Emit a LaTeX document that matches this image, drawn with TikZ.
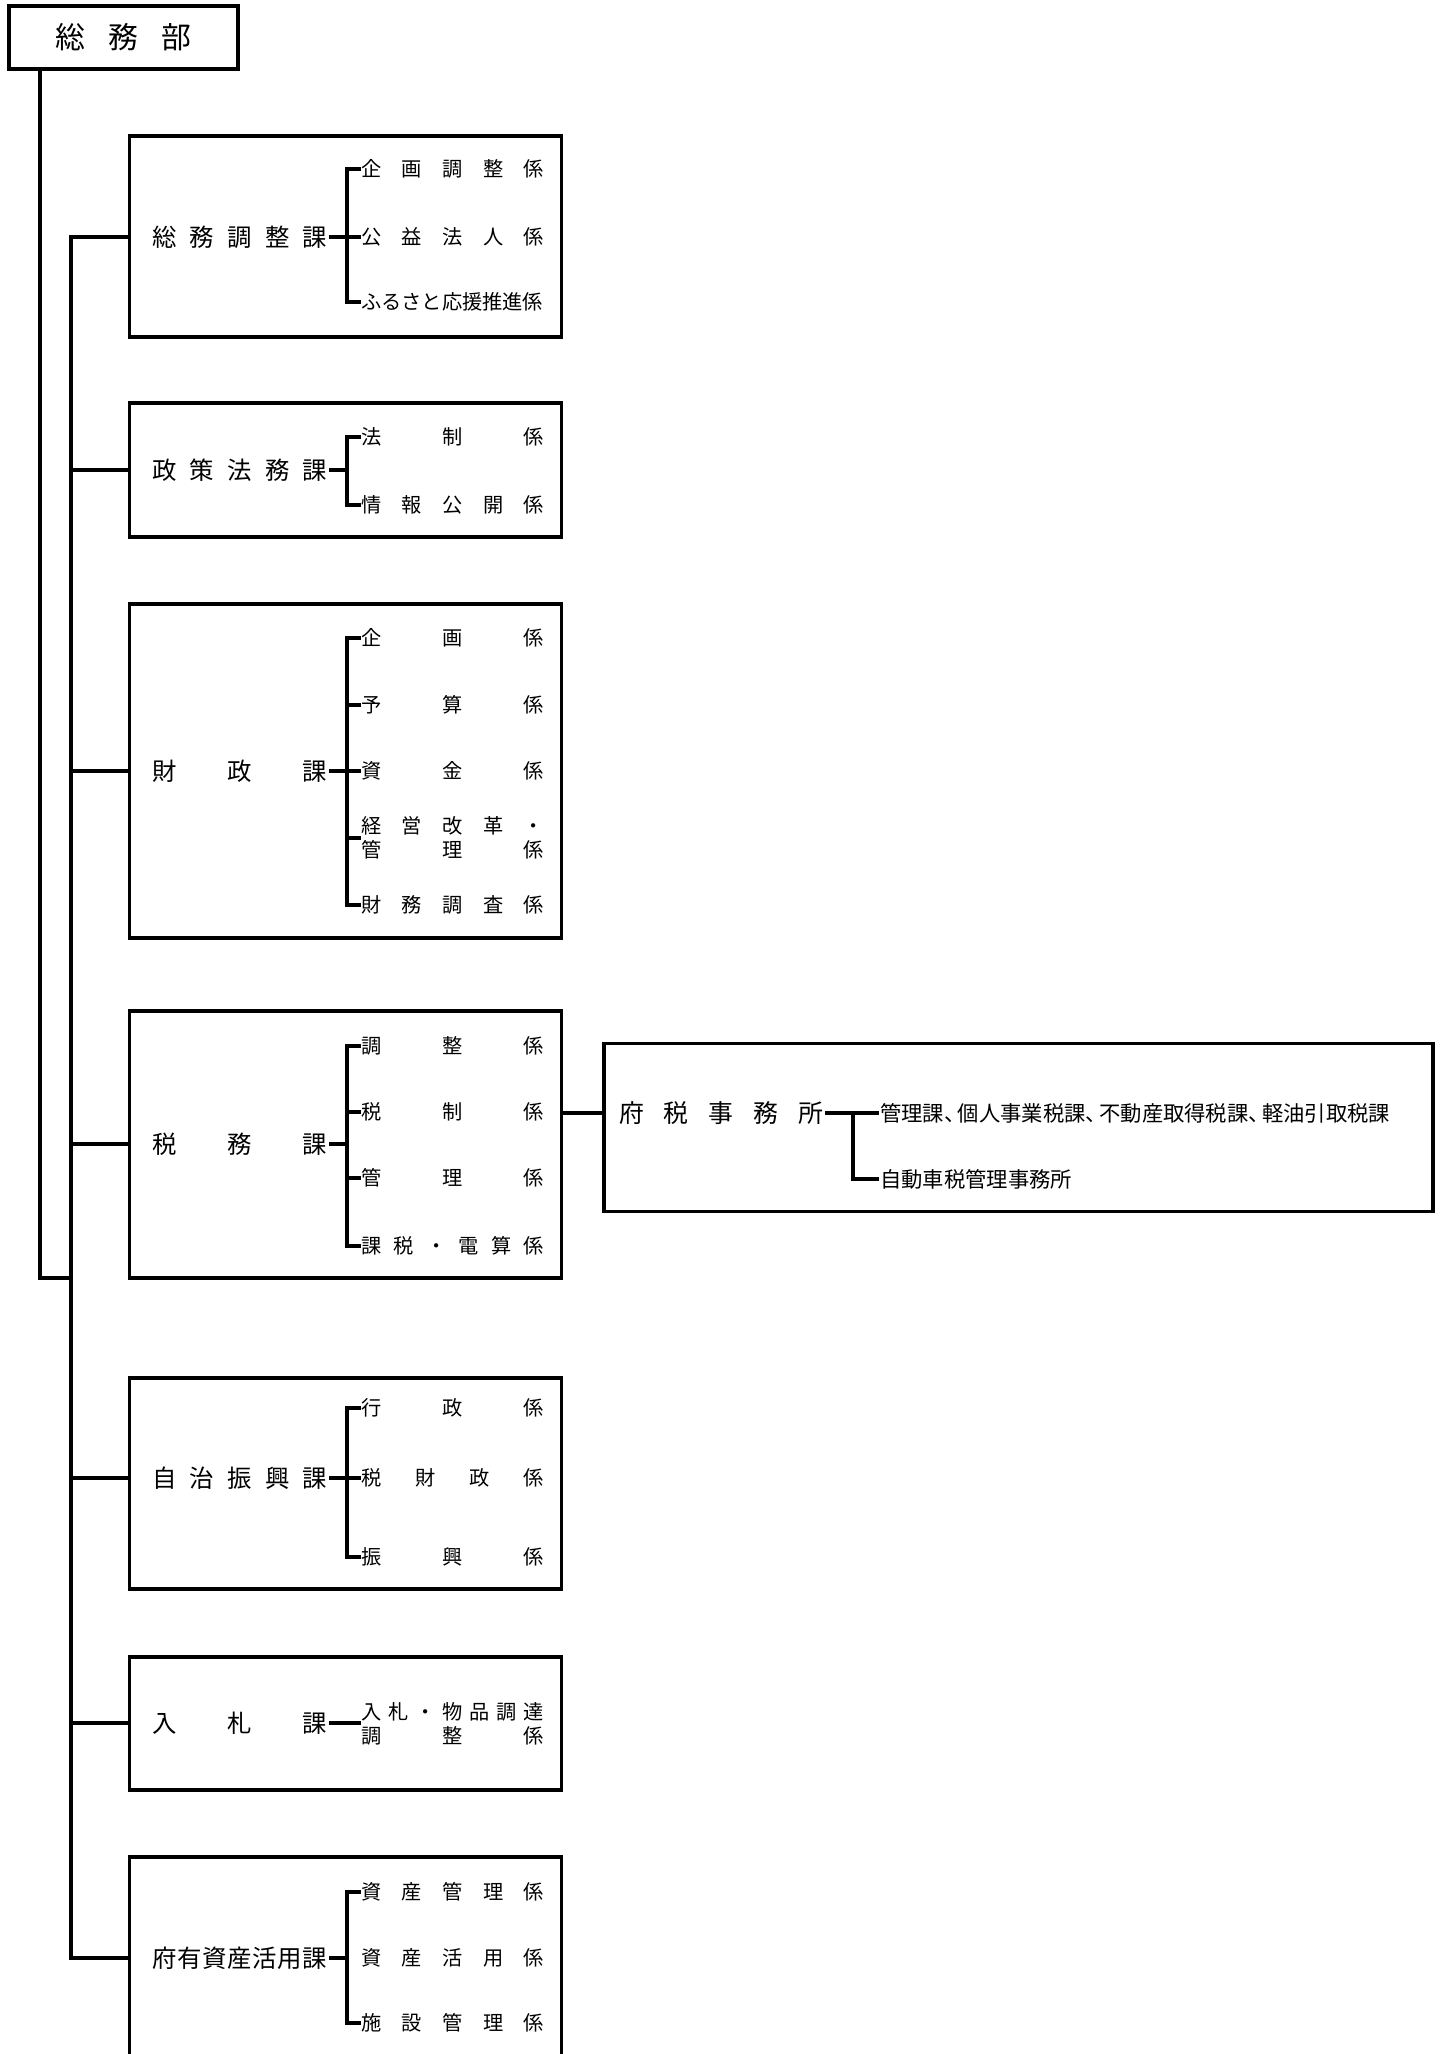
\documentclass[tikz,border=0pt]{standalone}
\usepackage{fontspec}
\setmainfont{Noto Sans CJK JP}
\usepackage{tikz}
\usetikzlibrary{calc}
\tikzstyle{soshiki}=[
  x=1bp,y=-1bp
]
\tikzstyle{sen}=[
  line width=3.2bp,line cap=rect
]
\tikzstyle{bubox}=[
  draw,line width=3.2bp,minimum width=229bp,minimum height=63bp,inner sep=0pt,font=\fontsize{30}{34}\selectfont
]
\tikzstyle{kabox}=[
  draw,line width=3.2bp,minimum width=432bp,inner sep=0pt
]
\tikzstyle{ka}=[
  anchor=west,inner xsep=3bp,inner ysep=0pt,font=\fontsize{24.5}{28}\selectfont
]
\tikzstyle{kakari}=[
  anchor=west,inner xsep=2bp,inner ysep=0pt,align=left,font=\fontsize{20.3}{24}\selectfont
]
\tikzstyle{jimusho}=[
  anchor=west,inner xsep=3bp,inner ysep=0pt,font=\fontsize{25}{29}\selectfont
]
\tikzstyle{jka}=[
  anchor=west,inner xsep=3bp,inner ysep=0pt,font=\fontsize{21.4}{25}\selectfont
]
\newcommand{\kintou}[2]{{\spaceskip=0pt plus 1fill\makebox[#1][s]{#2}}}
\newcommand{\kaw}[1]{\kintou{175bp}{#1}}
\newcommand{\kkw}[1]{\kintou{183bp}{#1}}
\newcommand{\ten}{\makebox[0.64em][l]{、}}

\begin{document}
\begin{tikzpicture}[soshiki]
  \useasboundingbox (0,0) rectangle (1443,2054);
  \clip (0,0) rectangle (1443,2054);
  \node (bu) at (123.5,37.5) [bubox] {\kintou{136bp}{総 務 部}};
  % ka boxes
  \node (box1) at (345.5,236.5) [kabox,minimum height=201bp] {};
  \node (box2) at (345.5,470) [kabox,minimum height=134bp] {};
  \node (box3) at (345.5,771) [kabox,minimum height=334bp] {};
  \node (box4) at (345.5,1144.5) [kabox,minimum height=267bp] {};
  \node (box5) at (345.5,1483.5) [kabox,minimum height=211bp] {};
  \node (box6) at (345.5,1723.5) [kabox,minimum height=133bp] {};
  \node (box7) at (345.5,1958) [kabox,minimum height=202bp] {};
  \node (zbox) at (1018.5,1127.5) [kabox,minimum width=829bp,minimum height=168bp] {};
  % ka
  \node (ka1) at (149,237) [ka] {\kaw{総 務 調 整 課}};
  \node (ka2) at (149,470) [ka] {\kaw{政 策 法 務 課}};
  \node (ka3) at (149,771) [ka] {\kaw{財 政 課}};
  \node (ka4) at (149,1144) [ka] {\kaw{税 務 課}};
  \node (ka5) at (149,1478) [ka] {\kaw{自 治 振 興 課}};
  \node (ka6) at (149,1723) [ka] {\kaw{入 札 課}};
  \node (ka7) at (149,1958) [ka] {\kaw{府 有 資 産 活 用 課}};
  % kakari
  \node (k11) at (359,169) [kakari] {\kkw{企 画 調 整 係}};
  \node (k12) at (359,237) [kakari] {\kkw{公 益 法 人 係}};
  \node (k13) at (359,302) [kakari] {\kkw{ふるさと応援推進係}};
  \node (k21) at (359,437) [kakari] {\kkw{法 制 係}};
  \node (k22) at (359,505) [kakari] {\kkw{情 報 公 開 係}};
  \node (k31) at (359,638) [kakari] {\kkw{企 画 係}};
  \node (k32) at (359,705) [kakari] {\kkw{予 算 係}};
  \node (k33) at (359,771) [kakari] {\kkw{資 金 係}};
  \node (k34) at (359,838) [kakari] {\kkw{経 営 改 革 ・}\\\kkw{管 理 係}};
  \node (k35) at (359,905) [kakari] {\kkw{財 務 調 査 係}};
  \node (k41) at (359,1046) [kakari] {\kkw{調 整 係}};
  \node (k42) at (359,1112) [kakari] {\kkw{税 制 係}};
  \node (k43) at (359,1178) [kakari] {\kkw{管 理 係}};
  \node (k44) at (359,1246) [kakari] {\kkw{課 税 ・ 電 算 係}};
  \node (k51) at (359,1408) [kakari] {\kkw{行 政 係}};
  \node (k52) at (359,1478) [kakari] {\kkw{税 財 政 係}};
  \node (k53) at (359,1557) [kakari] {\kkw{振 興 係}};
  \node (k61) at (359,1724) [kakari] {\kkw{入 札 ・ 物 品 調 達}\\\kkw{調 整 係}};
  \node (k71) at (359,1892) [kakari] {\kkw{資 産 管 理 係}};
  \node (k72) at (359,1958) [kakari] {\kkw{資 産 活 用 係}};
  \node (k73) at (359,2023) [kakari] {\kkw{施 設 管 理 係}};
  % fuzei jimusho
  \node (zj) at (616,1113) [jimusho] {\kintou{204bp}{府 税 事 務 所}};
  \node (zk1) at (877,1113) [jka] {管理課\ten 個人事業税課\ten 不動産取得税課\ten 軽油引取税課};
  \node (zk2) at (877,1179) [jka] {自動車税管理事務所};
  % spine
  \coordinate (t0) at (40,1278);
  \coordinate (s0) at (71,0);
  \draw [sen] (bu.south -| t0) -- (t0) -- (t0 -| s0);
  \draw [sen] (ka1.west -| s0) -- (ka7.west -| s0);
  \foreach \i in {1,...,7}
    \draw [sen] (ka\i.west -| s0) -- (ka\i.west -| box\i.west);
  % brackets
  \coordinate (b1) at (347,237);
  \coordinate (b2) at (347,470);
  \coordinate (b3) at (347,771);
  \coordinate (b4) at (347,1144);
  \coordinate (b5) at (347,1478);
  \coordinate (b7) at (347,1958);
  \draw [sen] (k11.west) -| (b1) |- (k13.west);
  \draw [sen] (ka1.east) -- (k12.west);
  \draw [sen] (k21.west) -| (b2) |- (k22.west);
  \draw [sen] (ka2.east) -- (b2);
  \draw [sen] (k31.west) -| (b3) |- (k35.west);
  \draw [sen] (ka3.east) -- (k33.west);
  \draw [sen] (k32.west) -- (k32.west -| b3);
  \draw [sen] (k34.west) -- (k34.west -| b3);
  \draw [sen] (k41.west) -| (b4) |- (k44.west);
  \draw [sen] (ka4.east) -- (b4);
  \draw [sen] (k42.west) -- (k42.west -| b4);
  \draw [sen] (k43.west) -- (k43.west -| b4);
  \draw [sen] (k51.west) -| (b5) |- (k53.west);
  \draw [sen] (ka5.east) -- (k52.west);
  \draw [sen] (ka6.east) -- (ka6.east -| k61.west);
  \draw [sen] (k71.west) -| (b7) |- (k73.west);
  \draw [sen] (ka7.east) -- (b7);
  % to fuzei jimusho
  \coordinate (zb) at (853,1113);
  \draw [sen] (zj.west -| box4.east) -- (zj.west -| zbox.west);
  \draw [sen] (zj.east) -- (zk1.west);
  \draw [sen] (zb) |- (zk2.west);
\end{tikzpicture}
\end{document}
